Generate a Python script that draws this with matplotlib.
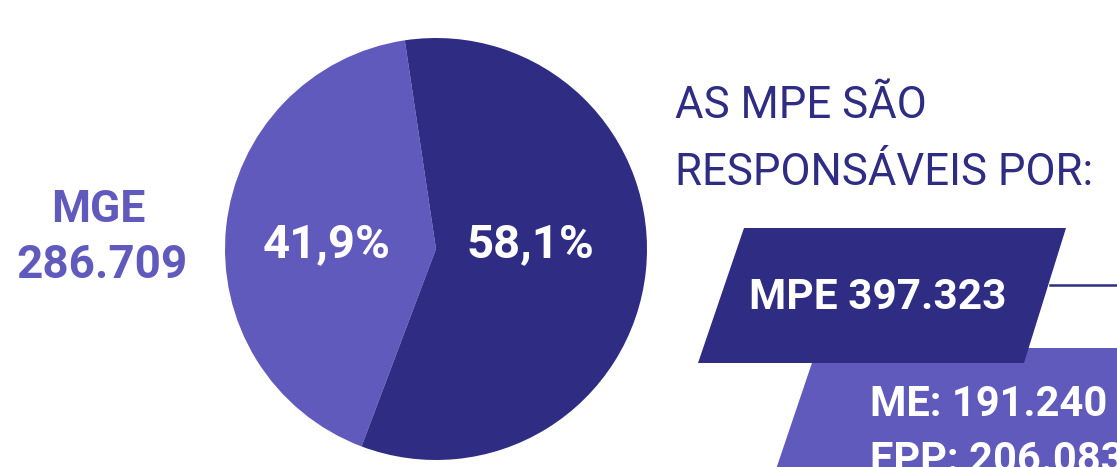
import matplotlib.pyplot as plt
from matplotlib.patches import Polygon

# data
categories = ["MGE", "MPE"]
shares = [41.9, 58.1]
totals = ["286.709", "397.323"]
mpe_parts = ["ME: 191.240", "EPP: 206.083"]
title_lines = ["AS MPE SÃO", "RESPONSÁVEIS POR:"]

DARK = "#2e2d83"
LIGHT = "#615abd"
W, H = 1117, 467

plt.rcParams["font.family"] = ["Roboto", "DejaVu Sans"]

fig = plt.figure(figsize=(W / 100, H / 100), dpi=100)
ax = fig.add_axes([0, 0, 1, 1])


def y(p):
    # pixel row (from top) -> data y (from bottom)
    return H - p


ax.pie(shares, colors=[LIGHT, DARK], startangle=98.5, center=(436, y(249)),
       radius=211, wedgeprops=dict(linewidth=0), frame=True)

# percent labels
ax.text(327, y(257), f"{shares[0]:.1f}%".replace(".", ","), color="white",
        fontsize=34, fontweight="bold", ha="center", va="baseline")
ax.text(530, y(257), f"{shares[1]:.1f}%".replace(".", ","), color="white",
        fontsize=34, fontweight="bold", ha="center", va="baseline")

# MGE label on the left
ax.text(98, y(222), categories[0], color=LIGHT, fontsize=32,
        fontweight="bold", ha="center", va="baseline")
ax.text(102, y(278), totals[0], color=LIGHT, fontsize=33,
        fontweight="bold", ha="center", va="baseline")

# title on the right
ax.text(675, y(118), title_lines[0], color=DARK, fontsize=31.5,
        ha="left", va="baseline")
ax.text(675, y(185), title_lines[1], color=DARK, fontsize=31.5,
        ha="left", va="baseline")

# boxes
skew = 0.34
light_box = Polygon([(817, y(348)), (1140, y(348)), (1140, y(490)),
                     (817 - 142 * skew, y(490))], closed=True,
                    facecolor=LIGHT, edgecolor="none")
ax.add_patch(light_box)
dark_box = Polygon([(744, y(228)), (1066, y(228)), (1024, y(363)),
                    (698, y(363))], closed=True, facecolor=DARK,
                   edgecolor="none")
ax.add_patch(dark_box)
ax.plot([1050, 1117], [y(285), y(285)], color=DARK, linewidth=1.8)

ax.text(749, y(309), f"{categories[1]} {totals[1]}", color="white",
        fontsize=30.5, fontweight="bold", ha="left", va="baseline")
ax.text(870, y(416), mpe_parts[0], color="white", fontsize=30,
        fontweight="bold", ha="left", va="baseline")
ax.text(870, y(472), mpe_parts[1], color="white", fontsize=30,
        fontweight="bold", ha="left", va="baseline")

ax.set_xlim(0, W)
ax.set_ylim(0, H)
ax.set_aspect("auto")
ax.axis("off")

fig.savefig("out.png", dpi=100)
